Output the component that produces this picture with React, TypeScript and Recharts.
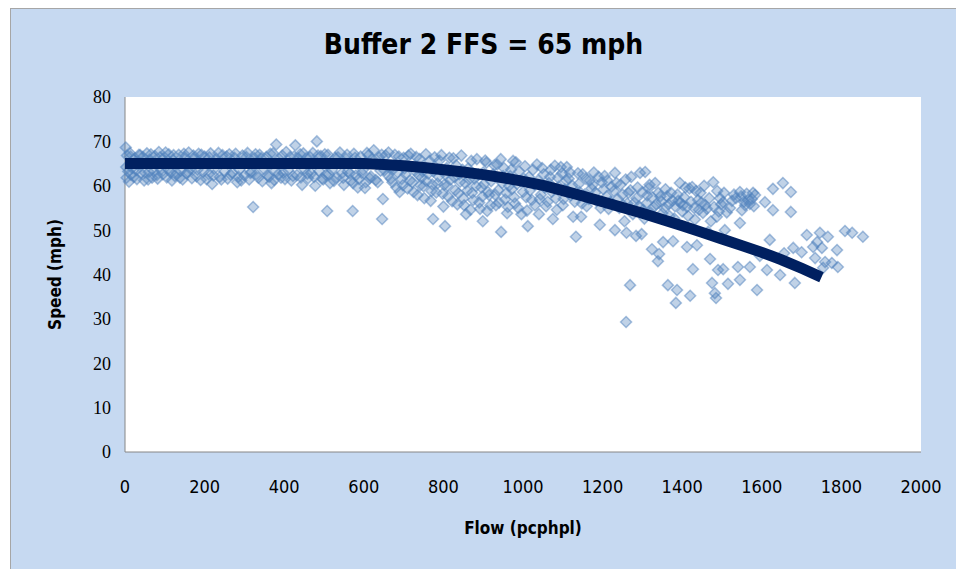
import React from 'react';
import { ScatterChart, Scatter, XAxis, YAxis, CartesianGrid } from 'recharts';

// ticks
const xTicks = [0, 200, 400, 600, 800, 1000, 1200, 1400, 1600, 1800, 2000];
const yTicks = [0, 10, 20, 30, 40, 50, 60, 70, 80];

const lowFlow: [number, number][] = [
  [2, 68.6], [5, 66.8], [8, 63.2], [4, 61.8], [12, 67.4], [15, 62.5], [18, 64.0], [10, 60.9],
  [25, 66.2], [28, 63.5], [30, 61.5], [35, 67.0], [40, 62.8], [45, 66.5], [48, 61.2],
  [55, 67.3], [60, 63.1], [62, 65.9], [68, 61.8], [75, 66.7], [80, 62.4], [85, 67.6], [90, 63.6],
  [100, 66.3], [105, 61.9], [110, 67.1], [115, 63.0], [120, 65.8], [125, 62.2],
  [135, 67.0], [140, 63.4], [145, 61.4], [150, 66.4], [155, 62.7], [160, 67.5], [165, 63.8],
  [175, 66.1], [180, 62.1], [185, 67.2], [190, 61.3], [198, 63.3], [200, 66.6],
  [210, 62.6], [215, 67.3], [219, 60.4], [225, 63.9], [230, 66.0], [238, 62.0], [245, 66.9], [250, 63.2],
  [258, 61.6], [262, 67.1], [270, 62.9], [275, 66.3], [282, 60.8], [288, 63.6], [295, 66.8],
  [300, 62.3], [308, 67.4], [312, 61.4], [318, 63.1], [322, 55.2], [325, 66.2], [330, 62.6], [338, 67.0],
  [345, 61.0], [350, 63.7], [355, 66.5], [362, 62.0], [368, 60.6], [372, 67.3], [378, 63.4], [380, 69.3],
  [388, 66.0], [392, 61.8], [398, 62.9], [405, 67.6], [410, 63.5], [418, 61.2], [425, 66.6], [428, 69.1],
  [432, 62.4], [440, 67.1], [445, 60.2], [450, 63.8], [455, 66.2], [460, 61.7], [468, 62.8], [472, 67.4],
  [478, 60.0], [482, 70.0], [488, 63.3], [492, 66.7], [498, 61.4], [505, 62.5], [508, 54.3], [510, 67.0],
  [515, 60.6], [520, 63.6], [528, 66.3], [532, 61.9], [540, 67.5], [545, 62.8], [550, 60.2], [555, 66.1],
  [560, 63.2], [568, 61.2], [572, 54.3], [573, 60.6], [575, 67.2], [580, 62.3], [585, 59.6], [592, 66.6],
  [598, 63.6], [603, 59.5], [605, 60.8], [612, 66.9], [618, 62.1], [625, 68.0], [630, 61.3], [638, 66.4],
  [642, 63.4], [646, 52.5], [648, 57.0],
];

const lowFlowFill: [number, number][] = [
  [3, 64.2], [14, 66.6], [22, 62.0], [32, 64.8], [38, 66.9], [50, 63.0], [58, 61.4], [65, 67.1],
  [72, 63.3], [82, 61.6], [88, 66.4], [95, 62.6], [102, 67.5], [108, 63.7], [118, 61.2], [122, 66.9],
  [130, 62.9], [138, 61.8], [148, 67.2], [158, 63.1], [168, 61.7], [172, 66.8], [182, 63.6], [192, 67.0],
  [205, 61.5], [212, 66.4], [222, 62.3], [235, 67.4], [242, 61.4], [255, 66.6], [265, 62.5], [278, 67.2],
  [285, 62.0], [292, 61.2], [305, 66.5], [315, 62.9], [328, 67.1], [335, 61.8], [342, 66.2], [358, 62.4],
  [365, 67.2], [375, 61.3], [385, 62.6], [395, 66.8], [402, 61.5], [415, 66.5], [422, 62.2], [435, 66.2],
  [442, 61.9], [448, 67.3], [458, 62.7], [465, 66.5], [475, 62.0], [485, 66.8], [495, 61.6], [502, 67.1],
  [512, 62.6], [525, 61.1], [535, 66.4], [548, 61.8], [558, 67.0], [565, 62.8], [578, 66.3], [588, 61.5],
  [595, 62.9], [608, 67.4], [615, 61.7], [622, 66.0], [635, 60.8], [645, 67.0],
];

const midFlow: [number, number][] = [
  [655, 66.8], [660, 62.4], [665, 64.0], [672, 60.8], [678, 67.0], [685, 63.0], [690, 58.6], [695, 61.5],
  [700, 66.3], [705, 62.6], [710, 59.4], [718, 67.2], [722, 60.8], [728, 63.4], [735, 57.9], [740, 66.0],
  [745, 61.8], [750, 59.9], [756, 67.1], [762, 62.7], [768, 56.6], [772, 60.3], [774, 52.5], [778, 66.4],
  [782, 58.5], [788, 62.1], [795, 66.9], [800, 55.3], [802, 60.2], [804, 50.9], [808, 64.0], [812, 57.6],
  [818, 61.4], [825, 66.2], [830, 59.0], [835, 55.8], [840, 62.6], [845, 66.8], [850, 57.2], [855, 60.6],
  [857, 53.6], [862, 63.9], [868, 54.6], [872, 58.4], [878, 61.6], [884, 66.0], [890, 56.2], [895, 59.6],
  [899, 52.0], [900, 63.0], [905, 65.7], [910, 54.3], [915, 57.9], [920, 61.0], [928, 64.6], [932, 55.6],
  [938, 59.0], [944, 66.0], [945, 49.6], [950, 62.2], [955, 56.9], [960, 53.8], [965, 60.0], [970, 63.6],
  [978, 57.4], [982, 65.3], [988, 55.0], [994, 61.0], [1000, 58.6], [1005, 64.4], [1010, 54.4], [1012, 50.9],
  [1015, 62.0], [1022, 56.8], [1028, 60.3], [1035, 64.8], [1040, 53.6], [1045, 58.0], [1052, 62.6],
  [1058, 55.4], [1065, 60.6], [1070, 63.6], [1075, 52.5], [1082, 57.2], [1088, 61.8], [1095, 64.2],
  [1100, 55.6], [1105, 59.2],
];

const midFlowFill: [number, number][] = [
  [652, 63.5], [662, 67.5], [668, 61.6], [675, 63.8], [682, 59.6], [688, 66.6], [698, 60.1], [702, 63.9],
  [712, 66.8], [716, 61.2], [725, 58.6], [732, 66.5], [738, 62.4], [742, 60.1], [748, 63.2], [752, 57.2],
  [758, 61.0], [765, 65.6], [770, 58.8], [775, 63.2], [785, 60.5], [790, 65.7], [798, 58.2], [805, 62.5],
  [810, 60.0], [815, 66.3], [822, 56.5], [828, 61.9], [832, 64.6], [838, 58.3], [842, 60.9], [848, 63.6],
  [852, 55.6], [860, 58.9], [865, 61.4], [870, 65.6], [875, 56.8], [882, 59.9], [888, 62.5], [892, 54.8],
  [898, 57.6], [902, 60.4], [908, 65.2], [912, 58.6], [918, 55.6], [925, 62.6], [930, 58.0], [935, 64.8],
  [940, 56.2], [948, 60.6], [952, 64.0], [958, 58.4], [962, 55.2], [968, 62.2], [972, 59.2], [975, 65.6],
  [980, 56.0], [985, 60.4], [990, 63.2], [996, 53.6], [1002, 61.6], [1008, 57.4], [1018, 59.0], [1025, 63.6],
  [1030, 55.6], [1038, 61.2], [1042, 57.0], [1048, 64.0], [1055, 59.6], [1062, 56.4], [1068, 62.0],
  [1072, 58.6], [1080, 64.5], [1085, 54.6], [1090, 59.8], [1098, 62.8], [1102, 57.0], [1108, 61.2],
];

const highFlow: [number, number][] = [
  [1110, 64.2], [1115, 61.6], [1120, 57.8], [1126, 53.0], [1133, 48.5], [1140, 60.4], [1146, 53.0],
  [1150, 62.6], [1155, 58.0], [1160, 55.4], [1168, 61.2], [1172, 59.4], [1178, 63.0], [1185, 56.6],
  [1193, 51.2], [1198, 60.8], [1205, 62.2], [1210, 57.6], [1215, 54.8], [1222, 59.8], [1231, 62.9],
  [1231, 50.0], [1238, 57.0], [1245, 60.2], [1252, 55.6], [1258, 61.4], [1260, 49.4], [1259, 29.3],
  [1265, 58.4], [1269, 37.6], [1272, 62.0], [1280, 56.2], [1284, 48.7], [1288, 59.6], [1294, 62.9],
  [1298, 49.1], [1302, 54.6], [1307, 63.1], [1312, 57.8], [1318, 60.2], [1324, 45.7], [1328, 55.2],
  [1332, 60.6], [1339, 43.0], [1342, 44.6], [1345, 57.6], [1350, 53.8], [1352, 47.3], [1358, 59.2],
  [1364, 37.6], [1366, 55.8], [1372, 58.4], [1377, 47.5], [1380, 52.6], [1384, 33.6], [1387, 36.5],
  [1390, 56.6], [1394, 60.6], [1400, 54.2], [1405, 57.4], [1412, 46.2], [1412, 55.2], [1418, 59.4],
  [1420, 35.2], [1425, 59.7], [1427, 41.2], [1432, 52.4], [1437, 46.6], [1440, 56.8], [1446, 58.4],
  [1452, 53.9], [1458, 55.6], [1465, 49.6], [1470, 43.5], [1475, 38.1], [1478, 60.8], [1482, 35.8],
  [1485, 34.7], [1487, 53.0], [1490, 41.0], [1495, 57.2], [1503, 41.2], [1503, 56.3], [1507, 50.0],
];

const highFlowFill: [number, number][] = [
  [1112, 58.8], [1118, 63.0], [1124, 60.0], [1130, 56.4], [1138, 62.8], [1142, 58.6], [1148, 56.0],
  [1158, 61.6], [1165, 57.0], [1175, 60.2], [1182, 58.4], [1190, 62.0], [1195, 55.0], [1202, 59.2],
  [1212, 61.2], [1220, 56.4], [1228, 58.8], [1235, 60.6], [1242, 55.0], [1250, 58.0], [1255, 52.0],
  [1262, 56.0], [1270, 59.0], [1276, 53.6], [1285, 57.2], [1292, 55.4], [1300, 58.6], [1305, 52.6],
  [1310, 56.0], [1315, 59.4], [1320, 54.0], [1325, 57.4], [1335, 55.8], [1340, 58.4], [1348, 56.4],
  [1355, 55.0], [1362, 57.6], [1368, 53.2], [1375, 56.6], [1382, 55.4], [1388, 58.0], [1395, 56.2],
  [1402, 55.6], [1408, 59.6], [1415, 53.2], [1422, 56.4], [1430, 55.0], [1435, 58.8], [1442, 54.6],
  [1448, 56.2], [1455, 60.0], [1462, 54.8], [1468, 57.2], [1472, 52.0], [1480, 55.2], [1488, 58.8],
  [1492, 54.2], [1498, 55.8],
];

const peakFlow: [number, number][] = [
  [1505, 58.4], [1512, 54.0], [1515, 37.9], [1520, 55.0], [1525, 56.6], [1530, 58.0], [1535, 57.2],
  [1540, 41.7], [1545, 51.6], [1545, 58.6], [1545, 38.8], [1548, 57.6], [1550, 54.5], [1555, 56.4],
  [1558, 55.6], [1562, 58.2], [1565, 56.8], [1570, 55.9], [1570, 41.7], [1575, 57.0], [1578, 58.4],
  [1580, 55.4], [1583, 57.9], [1588, 36.5], [1595, 44.2], [1608, 56.3], [1613, 41.0], [1620, 47.8],
  [1628, 59.3], [1628, 54.5], [1646, 39.9], [1653, 60.6], [1656, 44.8], [1673, 58.6], [1673, 54.1],
  [1679, 46.0], [1683, 38.1], [1700, 45.0], [1713, 48.9], [1729, 46.2], [1734, 43.7], [1739, 47.3],
  [1746, 49.4], [1751, 46.0], [1754, 41.5], [1759, 42.8], [1766, 48.5], [1776, 42.6], [1789, 45.5],
  [1791, 41.7], [1809, 49.8], [1827, 49.4], [1854, 48.5],
];

// fitted speed-flow curve
const curveFlow = [0, 200, 400, 600, 650, 700, 750, 800, 850, 900, 950, 1000, 1050, 1100, 1150, 1200,
  1250, 1300, 1350, 1400, 1450, 1500, 1550, 1600, 1650, 1700, 1750];
const curveSpeed = [65.0, 65.0, 65.0, 65.0, 64.8, 64.5, 64.1, 63.6, 63.1, 62.5, 61.8, 61.0, 60.1, 58.9,
  57.7, 56.4, 55.1, 53.8, 52.4, 51.0, 49.5, 48.0, 46.5, 45.0, 43.3, 41.4, 39.4];

const points = [...lowFlow, ...lowFlowFill, ...midFlow, ...midFlowFill, ...highFlow, ...highFlowFill, ...peakFlow]
  .map(([flow, speed]) => ({ flow, speed }));
const curve = curveFlow.map((flow, i) => ({ flow, speed: curveSpeed[i] }));

const narrow = '"Liberation Sans Narrow", "DejaVu Sans Condensed", sans-serif';

const Diamond = (props: any) => {
  const { cx, cy } = props;
  if (cx == null || cy == null) return <g />;
  const r = 5.5;
  return (
    <path
      d={`M${cx},${cy - r}L${cx + r},${cy}L${cx},${cy + r}L${cx - r},${cy}Z`}
      fill="#4F81BD"
      fillOpacity={0.36}
      stroke="#4F81BD"
      strokeOpacity={0.5}
      strokeWidth={1.5}
    />
  );
};

const App = () => {
  return (
    <div
      style={{
        position: 'fixed',
        top: 8,
        left: 10,
        width: 946,
        height: 561,
        boxSizing: 'border-box',
        background: '#C6D9F1',
        borderTop: '1px solid #A6A6A6',
        borderLeft: '1px solid #A6A6A6',
        overflow: 'hidden',
      }}
    >
      <div
        style={{
          position: 'absolute',
          top: 18,
          left: 0,
          width: 945,
          textAlign: 'center',
          fontFamily: narrow,
          fontWeight: 'bold',
          fontSize: 28,
          lineHeight: '36px',
          color: '#000',
        }}
      >
        Buffer 2 FFS = 65 mph
      </div>
      <ScatterChart width={945} height={560} margin={{ top: 88, right: 35, bottom: 17, left: 0 }}>
        <CartesianGrid horizontal={false} vertical={false} fill="#FFFFFF" />
        <XAxis
          type="number"
          dataKey="flow"
          domain={[0, 2000]}
          ticks={xTicks}
          height={100}
          tickLine={false}
          tickSize={0}
          tickMargin={28}
          axisLine={{ stroke: '#868686' }}
          tick={{ fill: '#000', fontSize: 18, fontFamily: narrow }}
          label={{
            value: 'Flow (pcphpl)',
            position: 'insideBottom',
            offset: 18,
            style: { fill: '#000', fontSize: 17, fontWeight: 'bold', fontFamily: narrow },
          }}
        />
        <YAxis
          type="number"
          dataKey="speed"
          domain={[0, 80]}
          ticks={yTicks}
          width={114}
          tickLine={false}
          tickSize={0}
          tickMargin={14}
          axisLine={{ stroke: '#868686' }}
          tick={{ fill: '#000', fontSize: 18, fontFamily: '"Liberation Serif", serif' }}
          label={{
            value: 'Speed (mph)',
            angle: -90,
            position: 'insideLeft',
            offset: 44,
            style: { fill: '#000', fontSize: 17, fontWeight: 'bold', fontFamily: narrow, textAnchor: 'middle' },
          }}
        />
        <Scatter data={points} shape={Diamond} isAnimationActive={false} />
        <Scatter
          data={curve}
          line={{ stroke: '#002060', strokeWidth: 11 }}
          shape={() => <g />}
          isAnimationActive={false}
        />
      </ScatterChart>
    </div>
  );
};

export default App;
